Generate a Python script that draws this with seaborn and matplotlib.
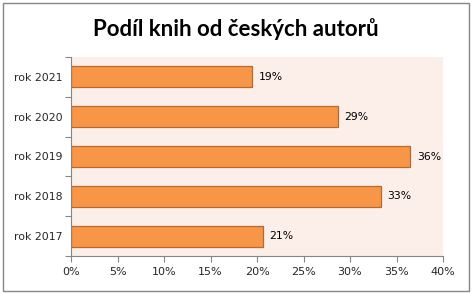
import matplotlib
matplotlib.use("Agg")
import matplotlib.pyplot as plt
import seaborn as sns
import pandas as pd
import numpy as np
from matplotlib.ticker import FixedLocator, PercentFormatter
from matplotlib.patches import Rectangle

categories = ["rok 2021", "rok 2020", "rok 2019", "rok 2018", "rok 2017"]
values = [0.195, 0.287, 0.365, 0.333, 0.206]
labels = ["19%", "29%", "36%", "33%", "21%"]
x_ticks = [0, 0.05, 0.10, 0.15, 0.20, 0.25, 0.30, 0.35, 0.40]

df = pd.DataFrame({"rok": categories, "podil": values})

sns.set_theme(style="white")
plt.rcParams["font.family"] = ["DejaVu Sans"]

fig = plt.figure(figsize=(4.73, 2.94), dpi=100)
ax = fig.add_axes([71 / 473, 38 / 294, 372 / 473, 199 / 294])
ax.set_facecolor("#FCEEE8")

sns.barplot(data=df, y="rok", x="podil", orient="h", ax=ax, color="#F79646",
            saturation=1, width=0.53, edgecolor="#B8692E", linewidth=0.9)

for i, (v, lab) in enumerate(zip(values, labels)):
    ax.text(v + 0.007, i, lab, va="center", ha="left", fontsize=7.8, color="#000000")

ax.set_xlim(0, 0.40)
ax.set_ylim(4.5, -0.5)
ax.xaxis.set_major_locator(FixedLocator(x_ticks))
ax.xaxis.set_major_formatter(PercentFormatter(1.0, decimals=0))
ax.set_xlabel("")
ax.set_ylabel("")

for s in ["top", "right"]:
    ax.spines[s].set_visible(False)
for s in ["left", "bottom"]:
    ax.spines[s].set_color("#868686")
    ax.spines[s].set_linewidth(0.8)

ax.tick_params(axis="x", which="major", length=4, color="#868686", width=0.8,
               labelsize=8, pad=4, bottom=True)
ax.tick_params(axis="y", which="major", length=0, labelsize=7.8, pad=6, left=True)
ax.yaxis.set_minor_locator(FixedLocator([-0.5, 0.5, 1.5, 2.5, 3.5, 4.5]))
ax.tick_params(axis="y", which="minor", length=4, color="#868686", width=0.8, left=True)

fig.text(236 / 473, 1 - 29 / 294, "Podíl knih od českých autorů", ha="center", va="center",
         fontsize=16, fontweight="bold", color="#000000", family=["Lato", "DejaVu Sans"])

fig.patches.append(Rectangle((3 / 473, 3 / 294), 466 / 473, 288 / 294, transform=fig.transFigure,
                             fill=False, edgecolor="#868686", linewidth=1))

fig.savefig("out.png", dpi=100, facecolor="white")
